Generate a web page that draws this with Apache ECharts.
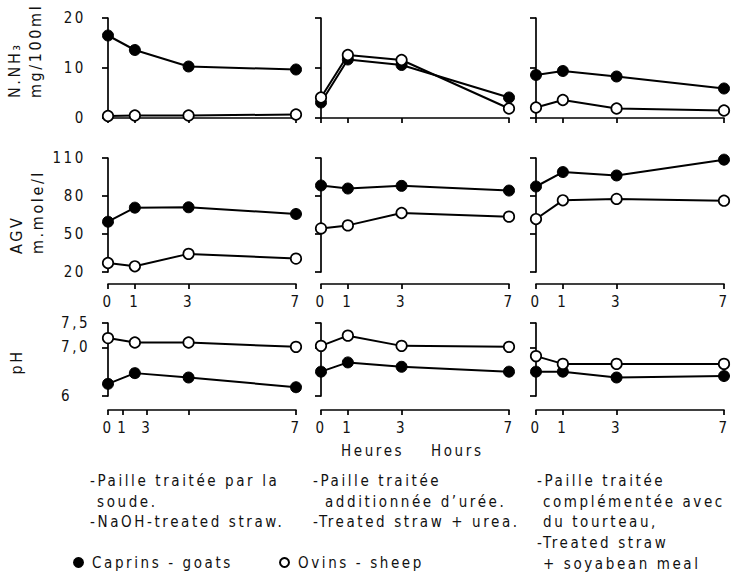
<!DOCTYPE html>
<html><head><meta charset="utf-8">
<script src="https://cdn.jsdelivr.net/npm/echarts@6/dist/echarts.min.js"></script>
<style>
html,body{margin:0;padding:0;background:#fff;}
#c{width:732px;height:574px;letter-spacing:2.6px;}
</style></head><body><div id="c"></div>
<script>
// ---- data ----
const hours = [0, 1, 3, 7];
const hourTicks = [0, 1, 3, 7];

// N.NH3 (mg/100ml)
const nh3Goats_NaOH = [16.5, 13.6, 10.3, 9.7];
const nh3Sheep_NaOH = [0.4, 0.5, 0.5, 0.7];
const nh3Goats_Urea = [3.1, 11.7, 10.6, 4.1];
const nh3Sheep_Urea = [4.1, 12.6, 11.6, 1.9];
const nh3Goats_Soya = [8.6, 9.4, 8.3, 5.9];
const nh3Sheep_Soya = [2.1, 3.6, 1.9, 1.5];

// AGV (m.mole/l)
const agvGoats_NaOH = [59.7, 70.8, 71.1, 65.8];
const agvSheep_NaOH = [27.1, 24.5, 34.3, 30.6];
const agvGoats_Urea = [88.3, 85.9, 88.0, 84.3];
const agvSheep_Urea = [54.4, 56.8, 66.6, 63.7];
const agvGoats_Soya = [87.5, 98.9, 96.2, 108.7];
const agvSheep_Soya = [61.8, 76.6, 77.7, 76.3];

// pH
const phGoats_NaOH = [6.25, 6.47, 6.38, 6.18];
const phSheep_NaOH = [7.19, 7.10, 7.10, 7.01];
const phGoats_Urea = [6.50, 6.69, 6.60, 6.50];
const phSheep_Urea = [7.03, 7.24, 7.03, 7.01];
const phGoats_Soya = [6.50, 6.50, 6.38, 6.41];
const phSheep_Soya = [6.82, 6.66, 6.66, 6.66];

// y ticks
const nh3Ticks = [0, 10, 20];
const agvTicks = [20, 50, 80, 110];
const phTicks = [6, 7, 7.5];
const phTickLabels = ['6', '7,0', '7,5'];
// hour scale as printed under the first pH panel
const phPanel1TickHours = [0, 0.55, 1.45, 3, 7];
const phPanel1TickLabels = ['0', '1', '3', '', '7'];

const goatsName = 'Caprins - goats';
const sheepName = 'Ovins - sheep';

const notes = [
  ['-Paille traitée par la', 'soude.', '-NaOH-treated straw.'],
  ['-Paille traitée', 'additionnée d\u2019urée.', '-Treated straw + urea.'],
  ['-Paille traitée', 'complémentée avec', 'du tourteau,', '-Treated straw', '+ soyabean meal']
];

// ---- layout ----
const FONT = "'DejaVu Sans Condensed','DejaVu Sans',sans-serif";
const INK = '#111';
const colLeft = [108, 321, 536];
const colW = 188;
const rowTop = [18, 158, 323];
const rowH = [100, 114, 73];
const yOff = [11, 11, 14];
const xOff = [15, 12, 14];

const rows = [
  {min: 0, max: 20, ticks: nh3Ticks, goats: [nh3Goats_NaOH, nh3Goats_Urea, nh3Goats_Soya], sheep: [nh3Sheep_NaOH, nh3Sheep_Urea, nh3Sheep_Soya]},
  {min: 20, max: 110, ticks: agvTicks, goats: [agvGoats_NaOH, agvGoats_Urea, agvGoats_Soya], sheep: [agvSheep_NaOH, agvSheep_Urea, agvSheep_Soya]},
  {min: 6, max: 7.5, ticks: phTicks, goats: [phGoats_NaOH, phGoats_Urea, phGoats_Soya], sheep: [phSheep_NaOH, phSheep_Urea, phSheep_Soya]}
];

const grid = [], xAxis = [], yAxis = [], series = [];
rows.forEach((row, r) => {
  for (let c = 0; c < 3; c++) {
    const i = grid.length;
    grid.push({left: colLeft[c], top: rowTop[r], width: colW, height: rowH[r]});
    const misprint = (r === 2 && c === 0);
    const tickVals = misprint ? phPanel1TickHours : hourTicks;
    xAxis.push({
      type: 'value', gridIndex: i, min: 0, max: 7, position: 'bottom', offset: xOff[r],
      splitLine: {show: false},
      axisLine: {show: true, lineStyle: {color: '#000', width: 1.7}},
      axisTick: {show: true, length: 5, customValues: tickVals, lineStyle: {color: '#000', width: 1.7}},
      axisLabel: {
        show: r > 0, margin: 10, fontSize: 15, fontFamily: FONT, color: INK,
        customValues: misprint ? phPanel1TickHours.filter((v, k) => phPanel1TickLabels[k] !== '') : hourTicks,
        formatter: v => misprint ? phPanel1TickLabels[phPanel1TickHours.indexOf(v)] : String(v)
      }
    });
    yAxis.push({
      type: 'value', gridIndex: i, min: row.min, max: row.max, position: 'left', offset: yOff[c],
      splitLine: {show: false},
      axisLine: {show: true, lineStyle: {color: '#000', width: 1.7}},
      axisTick: {show: true, length: 6, customValues: row.ticks, lineStyle: {color: '#000', width: 1.7}},
      axisLabel: {
        show: c === 0, fontSize: 15, fontFamily: FONT, color: INK,
        customValues: row.ticks,
        align: r === 2 ? 'left' : 'right',
        margin: r === 2 ? 36 : 11,
        formatter: v => r === 2 ? phTickLabels[phTicks.indexOf(v)] : String(v)
      }
    });
    series.push({
      type: 'line', name: goatsName, xAxisIndex: i, yAxisIndex: i, z: 2,
      data: hours.map((h, k) => [h, row.goats[c][k]]),
      symbol: 'circle', symbolSize: 11,
      lineStyle: {color: '#000', width: 2},
      itemStyle: {color: '#000', borderColor: '#000', borderWidth: 1},
      animation: false, silent: true
    });
    series.push({
      type: 'line', name: sheepName, xAxisIndex: i, yAxisIndex: i, z: 3,
      data: hours.map((h, k) => [h, row.sheep[c][k]]),
      symbol: 'circle', symbolSize: 10.5,
      lineStyle: {color: '#000', width: 2},
      itemStyle: {color: '#fff', borderColor: '#000', borderWidth: 1.7},
      animation: false, silent: true
    });
  }
});

const txt = (text, x, y, opts = {}) => ({
  type: 'text', x, y, rotation: opts.rotation || 0, silent: true,
  style: {text, fontSize: opts.size || 15, fontFamily: FONT, fill: INK,
    textAlign: opts.align || 'left', textVerticalAlign: 'middle'}
});

const graphic = [
  txt('N.NH\u2083', 14, 98, {rotation: Math.PI / 2, size: 16}),
  txt('mg/100ml', 35, 98, {rotation: Math.PI / 2, size: 16}),
  txt('AGV', 16, 254, {rotation: Math.PI / 2, size: 16}),
  txt('m.mole/l', 37, 254, {rotation: Math.PI / 2, size: 16}),
  txt('pH', 16, 362, {rotation: Math.PI / 2, size: 16, align: 'center'}),
  txt('Heures', 341, 451),
  txt('Hours', 431, 451)
];
const noteX = [90, 313, 537];
const noteIndent = [7, 12, 6];
const lineY = [481, 502, 522, 543, 564];
notes.forEach((lines, c) => {
  lines.forEach((s, k) => {
    const indent = s.startsWith('-') ? 0 : noteIndent[c];
    graphic.push(txt(s, noteX[c] + indent, lineY[k]));
  });
});

const legendBase = {
  orient: 'horizontal', icon: 'circle', itemWidth: 9, itemHeight: 9, itemGap: 6,
  selectedMode: false, top: 555, padding: 0,
  textStyle: {fontSize: 15, fontFamily: FONT, color: INK, padding: [0, 0, 0, 4]}
};

const chart = echarts.init(document.getElementById('c'), null, {renderer: 'svg'});
chart.setOption({
  animation: false,
  backgroundColor: '#fff',
  grid, xAxis, yAxis, series, graphic,
  legend: [
    Object.assign({}, legendBase, {data: [goatsName], left: 73}),
    Object.assign({}, legendBase, {data: [sheepName], left: 279})
  ]
});
</script></body></html>
